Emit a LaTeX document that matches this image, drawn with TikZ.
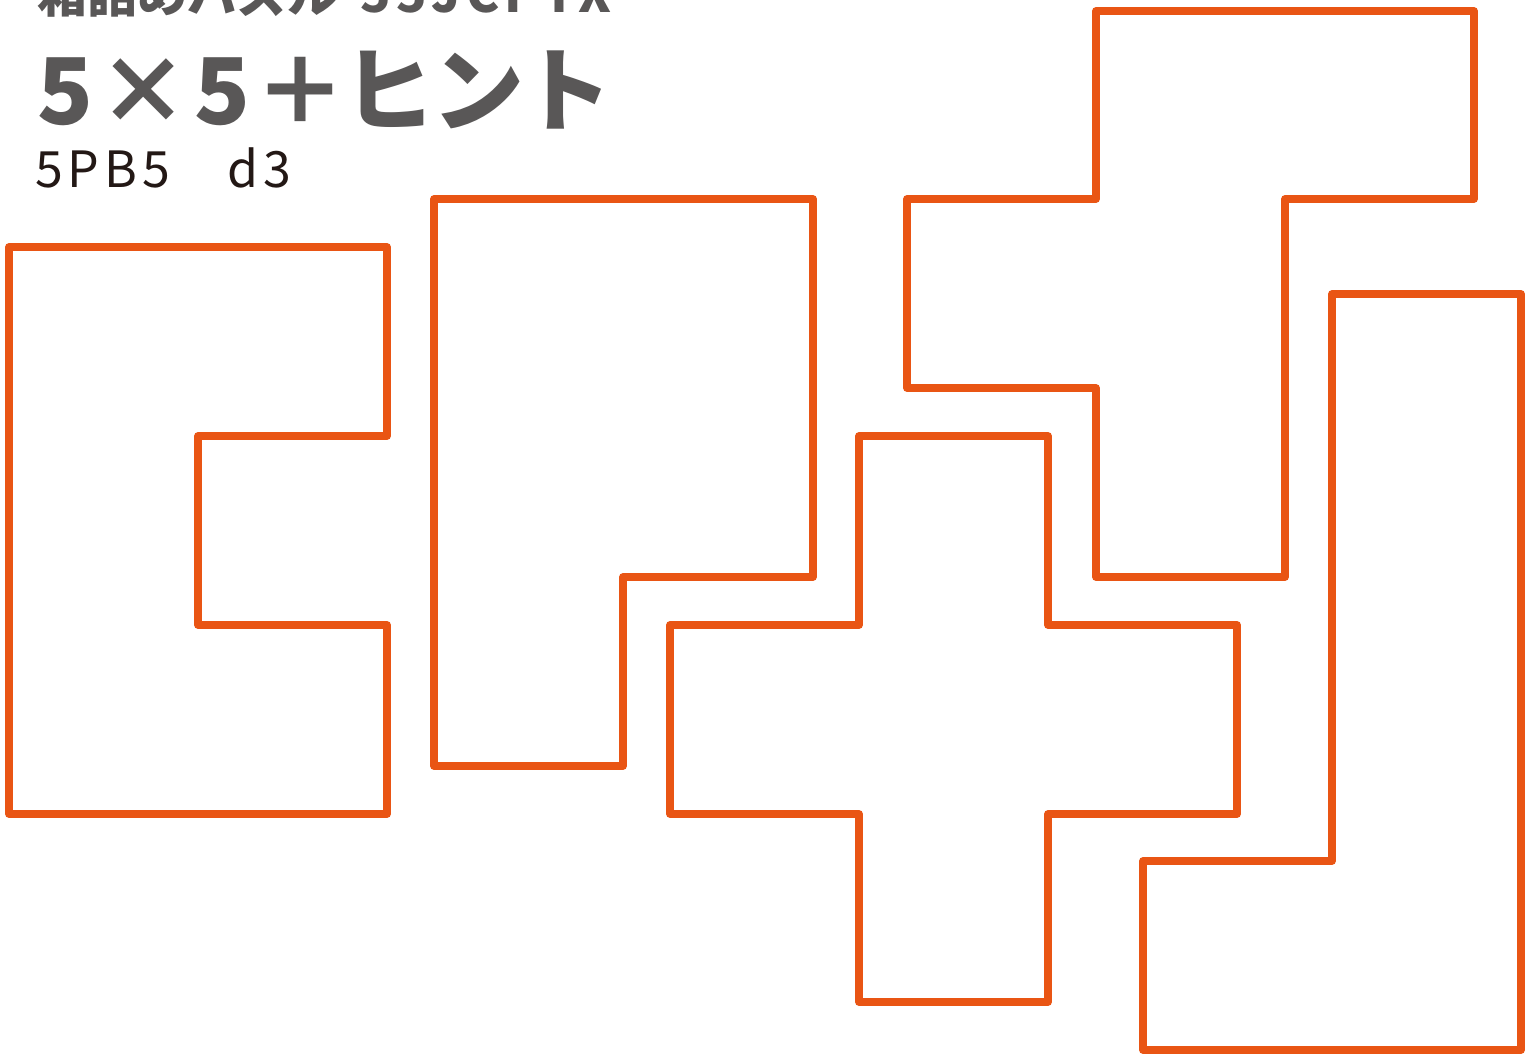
\documentclass[tikz,border=0pt]{standalone}
\usepackage{fontspec}
\newfontfamily\jpfont{Noto Sans CJK JP}
\definecolor{piece}{RGB}{233,85,20}
\definecolor{titlegray}{RGB}{89,87,87}
\definecolor{subdark}{RGB}{35,24,21}
\begin{document}
\begin{tikzpicture}[x=1pt,y=-1pt,
  piecepath/.style={draw=piece,line width=7.5pt,line join=round},
  txt/.style={anchor=base west,inner sep=0pt,outer sep=0pt}]
\useasboundingbox (0,0) rectangle (1526,1057);
% texts
\node[txt,text=titlegray,font=\jpfont\bfseries\fontsize{50}{50}\selectfont] (t1) at (37,13) {箱詰めパズル\hspace{24pt}{\addfontfeature{LetterSpace=10}55JCPTX}};
\node[txt,text=titlegray,font=\jpfont\bfseries\fontsize{92}{92}\selectfont] (t2) at (37,124) {\addfontfeature{LetterSpace=5}5×5＋\hspace{-3pt}{\addfontfeature{LetterSpace=-4}ヒント}};
\node[txt,text=subdark,font=\jpfont\fontsize{50}{50}\selectfont] (t3) at (35,187) {\addfontfeature{LetterSpace=10}5PB5　\hspace{2pt}d3};
% pieces
\draw[piecepath] (9,247) -- (387,247) -- (387,436) -- (198,436) -- (198,625) -- (387,625) -- (387,814) -- (9,814) -- cycle;
\draw[piecepath] (434,199) -- (813,199) -- (813,577) -- (623,577) -- (623,766) -- (434,766) -- cycle;
\draw[piecepath] (1096,11) -- (1474,11) -- (1474,199) -- (1285,199) -- (1285,577) -- (1096,577) -- (1096,388) -- (907,388) -- (907,199) -- (1096,199) -- cycle;
\draw[piecepath] (859,436) -- (1048,436) -- (1048,625) -- (1237,625) -- (1237,814) -- (1048,814) -- (1048,1002) -- (859,1002) -- (859,814) -- (670,814) -- (670,625) -- (859,625) -- cycle;
\draw[piecepath] (1332,294) -- (1521,294) -- (1521,1050) -- (1143,1050) -- (1143,861) -- (1332,861) -- cycle;
\end{tikzpicture}
\end{document}
